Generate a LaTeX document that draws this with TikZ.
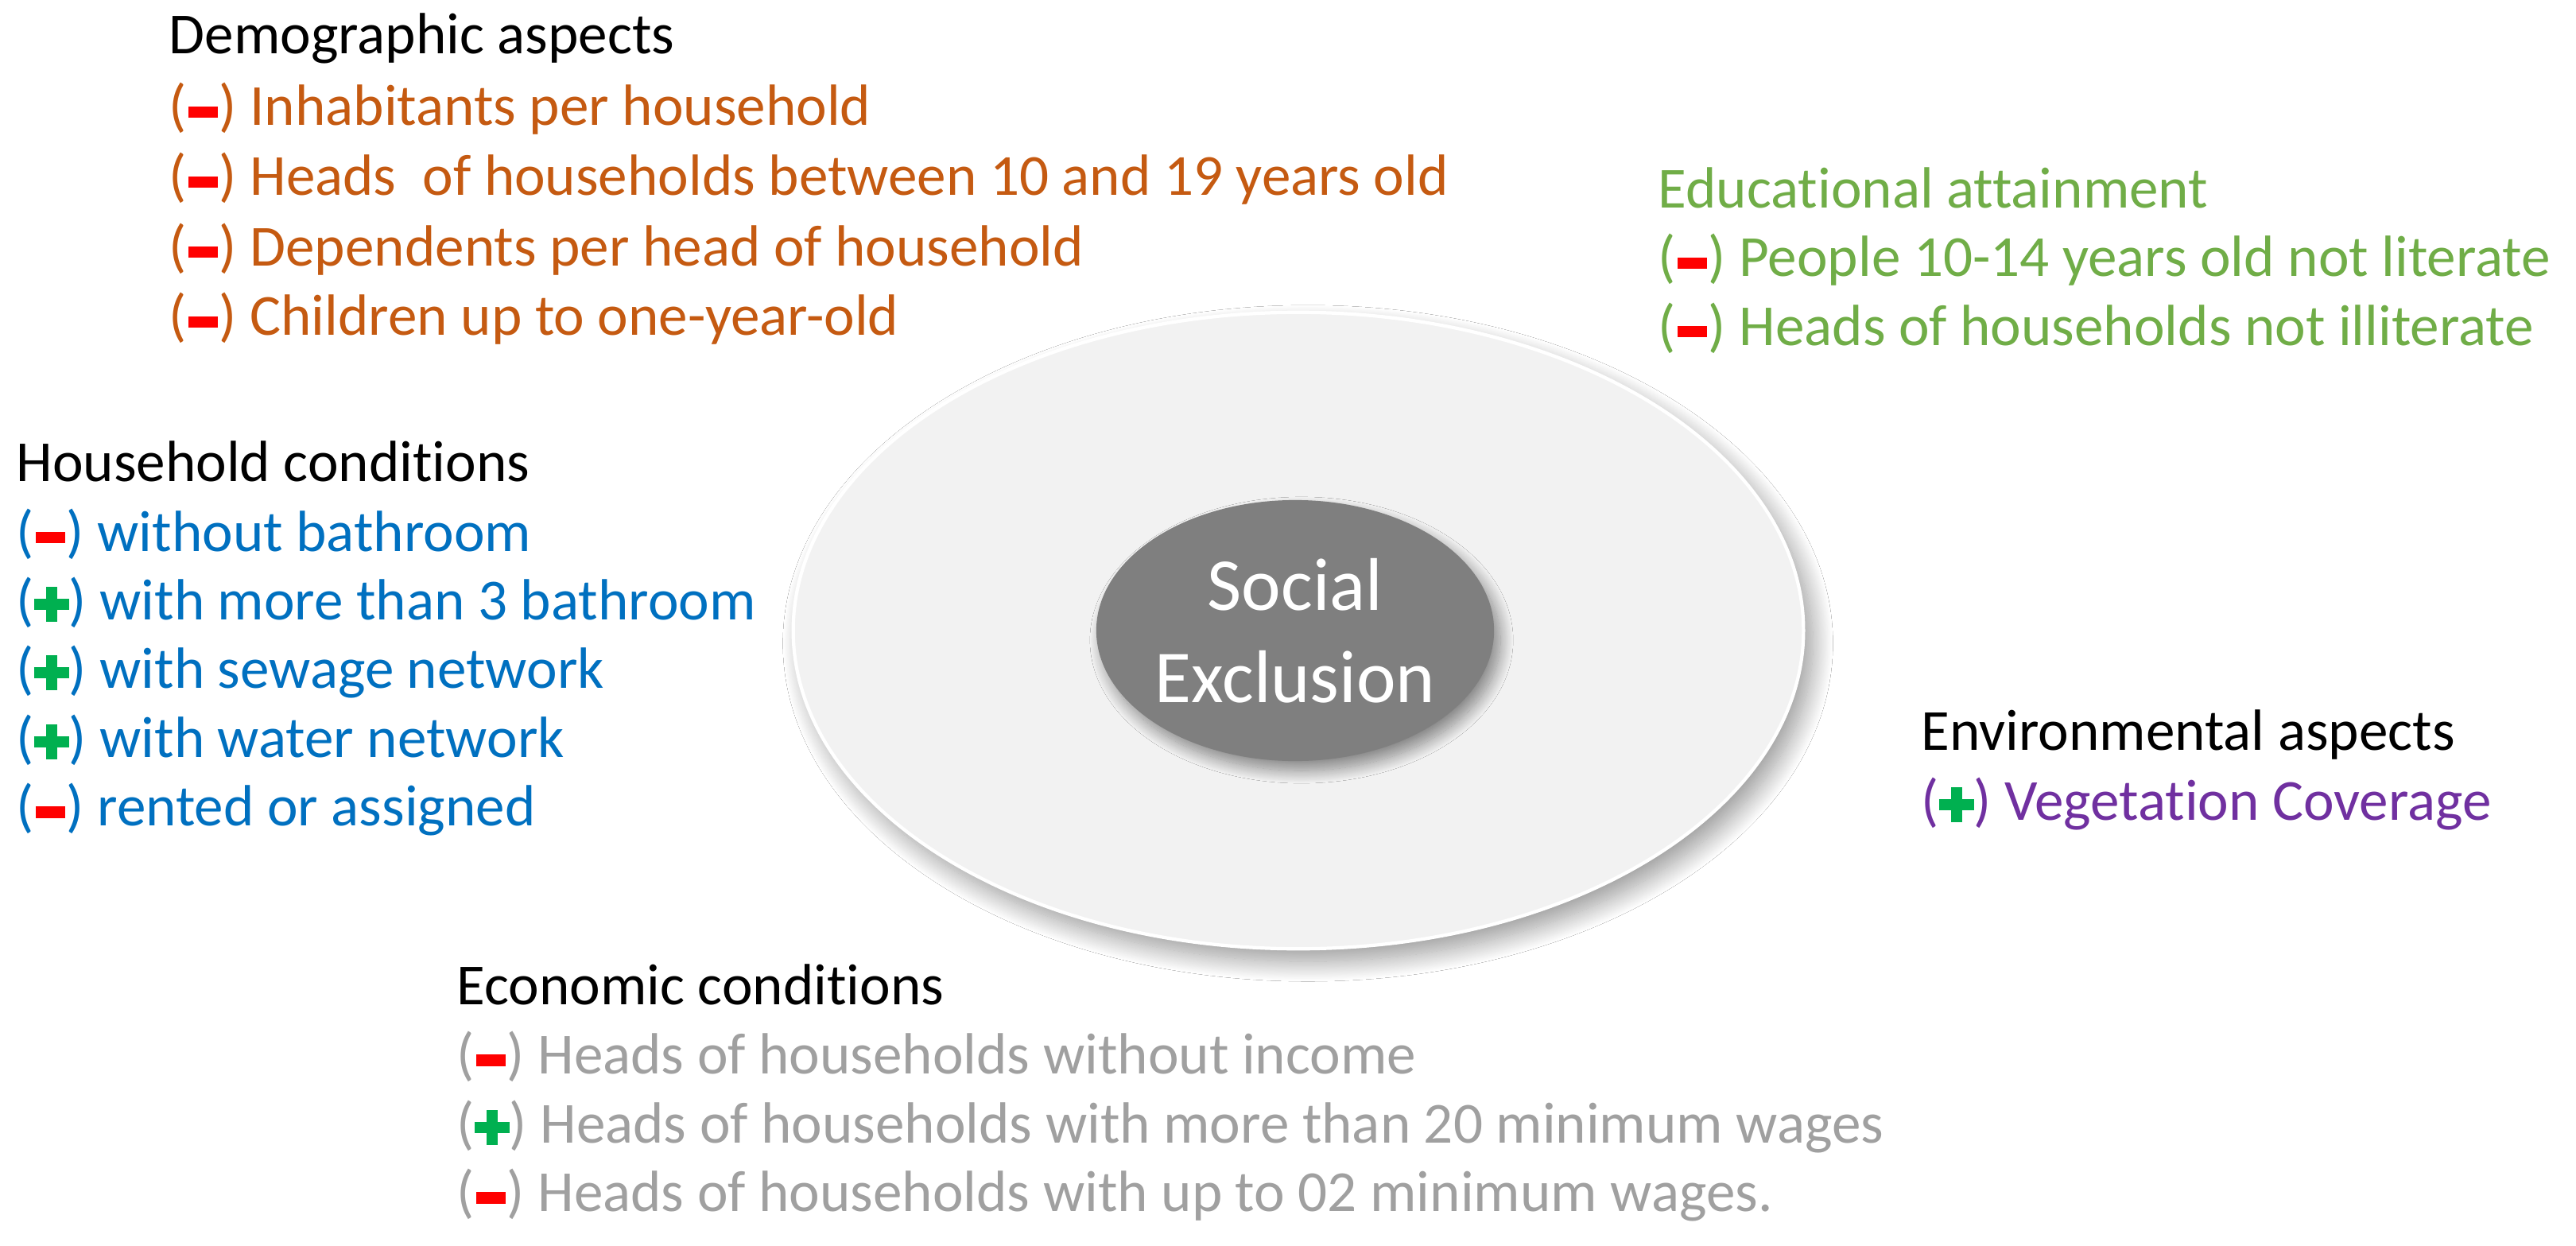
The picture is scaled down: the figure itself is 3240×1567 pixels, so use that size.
\documentclass[tikz,border=0pt]{standalone}
\usepackage{fontspec}
\setmainfont{Carlito}[Ligatures=NoCommon]
\usetikzlibrary{shapes.geometric,shadows.blur}
\definecolor{democol}{HTML}{C55A11}
\definecolor{housecol}{HTML}{0070C0}
\definecolor{educol}{HTML}{70AD47}
\definecolor{envcol}{HTML}{7030A0}
\definecolor{econcol}{HTML}{A0A0A0}
\definecolor{minusred}{HTML}{FF0000}
\definecolor{plusgreen}{HTML}{00B050}
\definecolor{ringfill}{HTML}{F2F2F2}
\definecolor{corefill}{HTML}{7F7F7F}
\newcommand\mns{\makebox[0.56em][c]{\textcolor{minusred}{\rule[0.13em]{0.5em}{0.2em}}}}
\newcommand\pls{\makebox[0.6em][l]{\textcolor{plusgreen}{\hspace{0.0em}\rlap{\rule[0.16em]{0.6em}{0.2em}}\hspace{0.2em}\rule[-0.04em]{0.2em}{0.6em}}}}
\tikzset{
  hdr/.style={anchor=base west, inner sep=0pt, font=\fontsize{20.8pt}{25pt}\selectfont, text=black},
  itm/.style={hdr, text=#1},
  outerell/.style={ellipse, fill=ringfill, draw=white, line width=1.2pt, minimum width=12.7cm, minimum height=8cm, inner sep=0pt,
    blur shadow={shadow xshift=1.2mm, shadow yshift=-1.6mm, shadow blur radius=2.5mm, shadow blur steps=30, shadow opacity=40}},
  innerell/.style={ellipse, fill=corefill, minimum width=5cm, minimum height=3.28cm, inner sep=0pt,
    blur shadow={shadow xshift=0.8mm, shadow yshift=-1.2mm, shadow blur radius=1.6mm, shadow blur steps=25, shadow opacity=45}},
  coretxt/.style={align=center, text=white, inner sep=0pt, font=\fontsize{26.7pt}{33pt}\selectfont}
}
\begin{document}
\begin{tikzpicture}[x=0.01cm,y=-0.01cm]
\useasboundingbox (0,0) rectangle (3240,1567);
\fill[white] (0,0) rectangle (3240,1567);
% central ellipses
\node[outerell] (outer) at (1633,793) {};
\node[innerell] (inner) at (1629,793) {};
\node[coretxt] (coretext) at (inner.center) {Social\\Exclusion};
% Demographic aspects
\node[hdr] (demH) at (212,68) {Demographic aspects};
\node[itm=democol] (dem1) at (212,158) {(\mns) Inhabitants per household};
\node[itm=democol] (dem2) at (212,246) {(\mns) Heads\ \ of households between 10 and 19 years old};
\node[itm=democol] (dem3) at (212,334) {(\mns) Dependents per head of household};
\node[itm=democol] (dem4) at (212,422) {(\mns) Children up to one-year-old};
% Household conditions
\node[hdr] (houH) at (20,605) {Household conditions};
\node[itm=housecol] (hou1) at (20,693) {(\mns) without bathroom};
\node[itm=housecol] (hou2) at (20,779) {(\pls) with more than 3 bathroom};
\node[itm=housecol] (hou3) at (20,865) {(\pls) with sewage network};
\node[itm=housecol] (hou4) at (20,952) {(\pls) with water network};
\node[itm=housecol] (hou5) at (20,1038) {(\mns) rented or assigned};
% Educational attainment
\node[itm=educol] (eduH) at (2085,262) {Educational attainment};
\node[itm=educol] (edu1) at (2085,348) {(\mns) People 10-14 years old not literate};
\node[itm=educol] (edu2) at (2085,434) {(\mns) Heads of households not illiterate};
% Environmental aspects
\node[hdr] (envH) at (2416,943) {Environmental aspects};
\node[itm=envcol] (env1) at (2416,1031) {(\pls) Vegetation Coverage};
% Economic conditions
\node[hdr] (ecoH) at (574,1263) {Economic conditions};
\node[itm=econcol] (eco1) at (574,1350) {(\mns) Heads of households without income};
\node[itm=econcol] (eco2) at (574,1437) {(\pls) Heads of households with more than 20 minimum wages};
\node[itm=econcol] (eco3) at (574,1523) {(\mns) Heads of households with up to 02 minimum wages.};
\end{tikzpicture}
\end{document}
